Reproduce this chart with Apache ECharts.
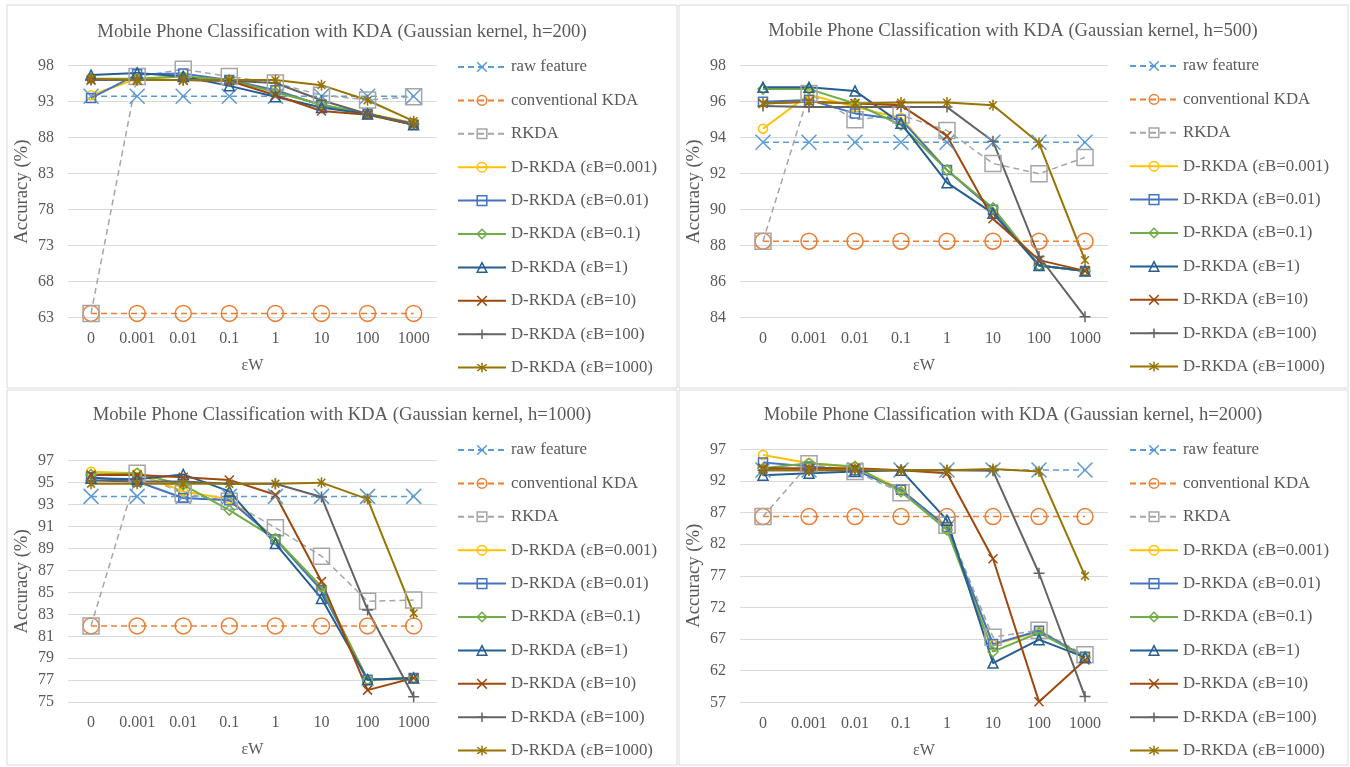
<!DOCTYPE html>
<html>
<head>
<meta charset="utf-8">
<script src="https://cdn.jsdelivr.net/npm/echarts@6/dist/echarts.min.js"></script>
<style>
html,body{margin:0;padding:0;background:#fff}
#main{width:1350px;height:767px}
</style>
</head>
<body>
<div id="main"></div>
<script>
// x categories (εW)
const epsW = ['0', '0.001', '0.01', '0.1', '1', '10', '100', '1000'];
const seriesNames = ['raw feature', 'conventional KDA', 'RKDA',
    'D-RKDA (εB=0.001)', 'D-RKDA (εB=0.01)', 'D-RKDA (εB=0.1)', 'D-RKDA (εB=1)',
    'D-RKDA (εB=10)', 'D-RKDA (εB=100)', 'D-RKDA (εB=1000)'];
const kernelH = [200, 500, 1000, 2000];
// y axis ticks per panel
const yMin = [63, 84, 75, 57];
const yMax = [98, 98, 97, 97];
const yStep = [5, 2, 2, 5];

// accuracy rows, same order as seriesNames
const accH200 = [
    [93.75, 93.75, 93.75, 93.75, 93.75, 93.75, 93.75, 93.75],
    [63.6, 63.6, 63.6, 63.6, 63.6, 63.6, 63.6, 63.6],
    [63.6, 96.5, 97.5, 96.5, 95.6, 93.9, 93.25, 93.7],
    [93.9, 96.2, 96.5, 96.0, 94.6, 92.5, 91.4, 90.0],
    [93.5, 96.8, 96.9, 96.0, 94.6, 92.5, 91.3, 89.8],
    [96.2, 96.2, 96.5, 96.0, 94.3, 92.6, 91.3, 90.0],
    [96.7, 97.0, 96.5, 95.2, 93.7, 92.2, 91.3, 89.8],
    [96.0, 96.0, 96.0, 95.9, 93.9, 91.7, 91.2, 89.8],
    [96.0, 96.0, 96.0, 95.9, 95.6, 93.2, 91.3, 89.9],
    [96.2, 96.0, 96.0, 96.0, 96.0, 95.3, 93.2, 90.3]
];
const accH500 = [
    [93.75, 93.75, 93.75, 93.75, 93.75, 93.75, 93.75, 93.75],
    [88.25, 88.25, 88.25, 88.25, 88.25, 88.25, 88.25, 88.25],
    [88.25, 96.46, 95.0, 95.26, 94.4, 92.57, 92.0, 92.9],
    [94.5, 96.4, 95.7, 95.1, 92.2, 90.0, 86.9, 86.6],
    [96.0, 96.1, 95.35, 95.0, 92.2, 90.0, 86.9, 86.6],
    [96.7, 96.7, 95.9, 94.7, 92.2, 90.1, 86.9, 86.6],
    [96.8, 96.8, 96.6, 94.8, 91.5, 89.8, 86.9, 86.6],
    [95.9, 96.0, 95.9, 95.8, 94.1, 89.5, 87.2, 86.6],
    [95.76, 95.7, 95.7, 95.7, 95.7, 93.8, 87.4, 84.05],
    [95.9, 96.0, 95.9, 95.95, 95.95, 95.8, 93.7, 87.2]
];
const accH1000 = [
    [93.75, 93.75, 93.75, 93.75, 93.75, 93.75, 93.75, 93.75],
    [81.95, 81.95, 81.95, 81.95, 81.95, 81.95, 81.95, 81.95],
    [81.95, 95.85, 94.0, 93.3, 90.9, 88.3, 84.2, 84.3],
    [96.0, 95.85, 94.2, 93.5, 89.9, 85.5, 77.05, 77.2],
    [95.5, 95.1, 93.6, 93.4, 89.85, 85.2, 77.05, 77.2],
    [95.75, 95.85, 94.8, 92.5, 89.9, 85.5, 77.05, 77.2],
    [95.4, 95.3, 95.75, 94.2, 89.45, 84.45, 77.05, 77.2],
    [95.7, 95.7, 95.5, 95.25, 93.9, 86.0, 76.1, 77.2],
    [95.2, 95.1, 95.1, 94.9, 94.9, 93.7, 83.4, 75.5],
    [94.9, 94.9, 94.9, 94.9, 94.9, 95.0, 93.5, 83.1]
];
const accH2000 = [
    [93.73, 93.73, 93.73, 93.73, 93.73, 93.73, 93.73, 93.73],
    [86.36, 86.36, 86.36, 86.36, 86.36, 86.36, 86.36, 86.36],
    [86.36, 94.7, 93.5, 90.15, 85.0, 67.3, 68.4, 64.5],
    [96.1, 94.8, 94.15, 90.7, 84.5, 66.1, 68.2, 64.2],
    [94.9, 94.3, 93.7, 90.6, 84.7, 66.2, 68.3, 64.2],
    [94.0, 94.8, 94.3, 90.3, 84.25, 65.0, 68.0, 64.1],
    [92.9, 93.2, 93.5, 93.7, 85.8, 63.2, 66.9, 64.1],
    [94.0, 94.0, 94.0, 93.7, 93.2, 79.7, 57.1, 63.7],
    [93.7, 93.7, 93.7, 93.7, 93.7, 93.6, 77.4, 57.9],
    [93.7, 93.7, 93.8, 93.7, 93.7, 93.9, 93.5, 77.0]
];
const panelData = [accH200, accH500, accH1000, accH2000];

window.addEventListener('load', function () {
    var chart = echarts.init(document.getElementById('main'));
    var font = 'Liberation Serif';
    var txt = '#595959';
    var colors = ['#5B9BD5', '#ED7D31', '#A5A5A5', '#FFC000', '#4472C4',
        '#70AD47', '#255E91', '#9E480E', '#636363', '#997300'];
    var X = 'path://M0,0L10,10M10,0L0,10';
    var PLUS = 'path://M5,0L5,10M0,5L10,5';
    var STAR = 'path://M1.5,1.5L8.5,8.5M8.5,1.5L1.5,8.5M5,0L5,10';
    var symbols = [X, 'circle', 'rect', 'circle', 'rect', 'diamond', 'triangle', X, PLUS, STAR];
    var sizes = [15, 16, 16, 9, 9, 10, 10, 9, 11, 11];
    var dashed = [true, true, true, false, false, false, false, false, false, false];

    // layout of the four panels
    var panels = [
        {grid: {left: 68, top: 65.7, width: 368.7, height: 252}, cx: 342, ty: 23, lx: 457, ly: 58.5, box: [7, 5, 670, 383]},
        {grid: {left: 740, top: 65.7, width: 368, height: 252}, cx: 1013, ty: 22, lx: 1129, ly: 57.5, box: [679, 5, 669, 383]},
        {grid: {left: 68, top: 460.7, width: 368.7, height: 241.5}, cx: 342, ty: 406, lx: 457, ly: 441.5, box: [7, 390, 670, 375]},
        {grid: {left: 740, top: 449.3, width: 368, height: 253}, cx: 1013, ty: 406, lx: 1129, ly: 441.5, box: [679, 390, 669, 375]}
    ];

    var grid = [], xAxis = [], yAxis = [], title = [], legend = [], series = [], graphic = [];
    panels.forEach(function (p, k) {
        grid.push(p.grid);
        graphic.push({
            type: 'rect', z: -10,
            shape: {x: p.box[0], y: p.box[1], width: p.box[2], height: p.box[3]},
            style: {fill: '#fff', stroke: '#d9d9d9', lineWidth: 1}
        });
        title.push({
            text: 'Mobile Phone Classification with KDA (Gaussian kernel, h=' + kernelH[k] + ')',
            left: p.cx, top: p.ty, textAlign: 'center', padding: 0,
            textStyle: {fontFamily: font, fontSize: 18.67, fontWeight: 'normal', color: txt}
        });
        xAxis.push({
            type: 'category', gridIndex: k, data: epsW,
            name: 'εW', nameLocation: 'middle', nameGap: 40,
            nameTextStyle: {fontFamily: font, fontSize: 16, color: txt},
            axisLine: {lineStyle: {color: '#d9d9d9'}},
            axisTick: {show: false},
            axisLabel: {fontFamily: font, fontSize: 16, color: txt, margin: 13, interval: 0}
        });
        yAxis.push({
            type: 'value', gridIndex: k, min: yMin[k], max: yMax[k], interval: yStep[k],
            name: 'Accuracy (%)', nameLocation: 'middle', nameGap: 36,
            nameTextStyle: {fontFamily: font, fontSize: 18.67, color: txt},
            axisLine: {show: false}, axisTick: {show: false},
            axisLabel: {fontFamily: font, fontSize: 16, color: txt, margin: 14},
            splitLine: {lineStyle: {color: '#d9d9d9'}}
        });
        legend.push({
            orient: 'vertical', left: p.lx, top: p.ly, padding: 0,
            itemWidth: 48, itemHeight: 12, itemGap: 16.4,
            itemStyle: {borderWidth: 1.5},
            textStyle: {fontFamily: font, fontSize: 16.8, color: txt},
            selectedMode: false,
            data: seriesNames
        });
        panelData[k].forEach(function (row, i) {
            series.push({
                name: seriesNames[i], type: 'line', xAxisIndex: k, yAxisIndex: k,
                data: row,
                symbol: symbols[i], symbolSize: sizes[i], symbolKeepAspect: true,
                showAllSymbol: true,
                lineStyle: {color: colors[i], width: dashed[i] ? 1.5 : 2, type: dashed[i] ? [6, 4] : 'solid'},
                itemStyle: {color: 'transparent', borderColor: colors[i], borderWidth: 1.5},
                emphasis: {disabled: true},
                animation: false
            });
        });
    });

    chart.setOption({
        backgroundColor: '#fff',
        animation: false,
        graphic: graphic,
        title: title,
        grid: grid,
        xAxis: xAxis,
        yAxis: yAxis,
        legend: legend,
        series: series
    });
});
</script>
</body>
</html>
